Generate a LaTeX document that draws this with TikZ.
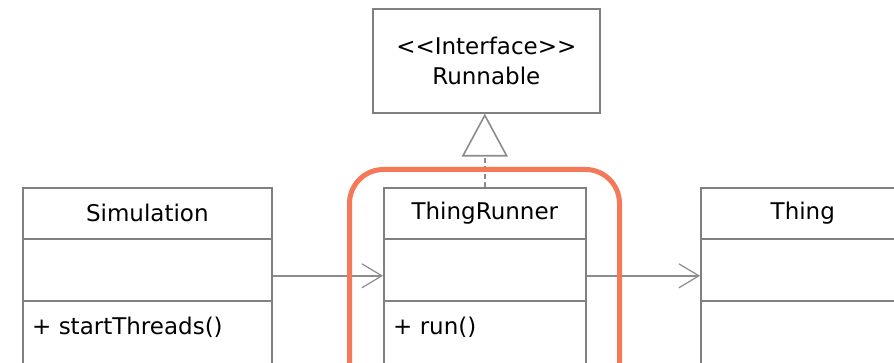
\documentclass[tikz,border=0pt]{standalone}
\usepackage{fontspec}
\setmainfont{DejaVu Sans}
\usetikzlibrary{arrows.meta}
\definecolor{boxgray}{RGB}{128,128,128}
\definecolor{arrgray}{RGB}{140,140,140}
\definecolor{hlorange}{RGB}{245,120,88}
\begin{document}
\begin{tikzpicture}[x=1pt,y=-1pt,
  comp/.style={draw=boxgray, line width=1.6pt, inner sep=0pt, anchor=north west, fill=white,
               font=\fontsize{23}{30}\selectfont},
  lbl/.style={font=\fontsize{23}{30}\selectfont, inner sep=0pt, anchor=west},
  assoc/.style={draw=arrgray, line width=1.6pt, -{Straight Barb[length=20pt,width=24pt,line width=1.2pt]}},
  realiz/.style={draw=arrgray, line width=1.6pt, dash pattern=on 5pt off 3pt,
                 -{Triangle[open, length=43pt, width=46pt, fill=white, line width=1.6pt]}},
  hl/.style={draw=hlorange, line width=5pt, rounded corners=34pt, inner sep=0pt, anchor=north west}]
\useasboundingbox (0,0) rectangle (894,363);
% Runnable
\node[comp, minimum width=227pt, minimum height=104pt, align=center] (run) at (372,8)
  {<\kern0pt<Interface>\kern0pt>\\Runnable};
% Simulation
\node[comp, minimum width=249pt, minimum height=51pt] (simname) at (22,187) {Simulation};
\node[comp, minimum width=249pt, minimum height=62pt] (simattr) at (22,238) {};
\node[comp, minimum width=249pt, minimum height=100pt] (simops) at (22,300) {};
\node[lbl] (simop) at ([xshift=10pt,yshift=-27pt]simops.north west) {+ startThreads()};
% ThingRunner
\node[comp, minimum width=202pt, minimum height=51pt] (trname) at (383,187) {ThingRunner};
\node[comp, minimum width=202pt, minimum height=62pt] (trattr) at (383,238) {};
\node[comp, minimum width=202pt, minimum height=100pt] (trops) at (383,300) {};
\node[lbl] (trop) at ([xshift=10pt,yshift=-27pt]trops.north west) {+ run()};
% Thing
\node[comp, minimum width=204pt, minimum height=51pt] (thname) at (700,187) {Thing};
\node[comp, minimum width=204pt, minimum height=62pt] (thattr) at (700,238) {};
\node[comp, minimum width=204pt, minimum height=100pt] (thops) at (700,300) {};
% connectors
\draw[assoc] ([yshift=-6pt]simattr.east) -- ([yshift=-6pt]trattr.west);
\draw[assoc] ([yshift=-6pt]trattr.east) -- ([yshift=-6pt]thattr.west);
\draw[realiz] (trname.north) -- (trname.north |- run.south);
% highlight
\node[hl, minimum width=270pt, minimum height=240pt] (hlbox) at (347,167) {};
\end{tikzpicture}
\end{document}
